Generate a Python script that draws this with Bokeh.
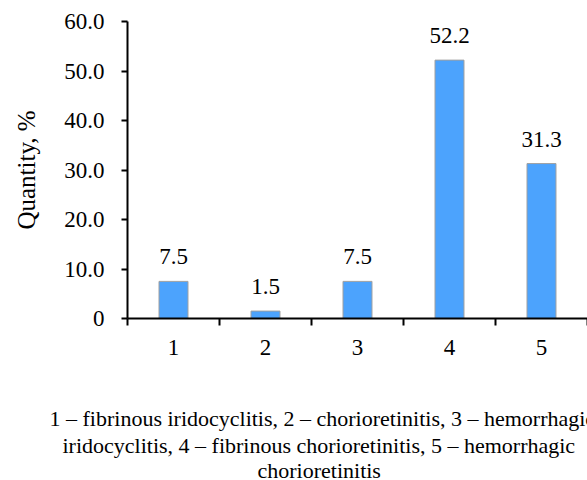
from bokeh.plotting import figure
from bokeh.models import ColumnDataSource, FixedTicker, Range1d, LabelSet, Title
from bokeh.embed import file_html
from bokeh.resources import INLINE

categories = ["1", "2", "3", "4", "5"]
values = [7.5, 1.5, 7.5, 52.2, 31.3]
value_labels = ["7.5", "1.5", "7.5", "52.2", "31.3"]
y_ticks = [0, 10, 20, 30, 40, 50, 60]
y_tick_labels = ["0", "10.0", "20.0", "30.0", "40.0", "50.0", "60.0"]
y_title = "Quantity, %"
caption_lines = [
    "1 – fibrinous iridocyclitis, 2 – chorioretinitis, 3 – hemorrhagic",
    "iridocyclitis, 4 – fibrinous chorioretinitis, 5 – hemorrhagic",
    "chorioretinitis",
]
caption_offsets = [-78, -65, 130]
caption_standoffs = [-2, 2, -6]

FONT = "Liberation Serif"
xpos = [i + 1 for i in range(len(categories))]
src = ColumnDataSource(dict(x=xpos, top=values, label=value_labels))

p = figure(width=587, height=480,
           x_range=Range1d(0.5, len(categories) + 0.5), y_range=Range1d(0, 60),
           output_backend="svg", toolbar_location=None,
           min_border_left=127, min_border_right=0, min_border_top=21, min_border_bottom=162)
p.outline_line_color = None
p.grid.visible = False
p.background_fill_color = "white"
p.border_fill_color = "white"

p.vbar(x="x", top="top", bottom=0, width=0.315, source=src,
       fill_color="#4CA3FD", line_color="#A0A0A0", line_width=1)

p.add_layout(LabelSet(x="x", y="top", text="label", source=src, y_offset=17,
                      text_align="center", text_baseline="alphabetic",
                      text_font=FONT, text_font_size="23px", text_color="#000000"))

# x axis
xa = p.xaxis[0]
xa.ticker = FixedTicker(ticks=xpos, minor_ticks=[i + 0.5 for i in range(len(categories) + 1)])
xa.major_label_overrides = {x: c for x, c in zip(xpos, categories)}
xa.major_tick_out = 0
xa.major_tick_in = 0
xa.minor_tick_out = 7
xa.minor_tick_in = 0
xa.minor_tick_line_color = "black"
xa.minor_tick_line_width = 2
xa.axis_line_color = "black"
xa.axis_line_width = 2
xa.major_label_standoff = 14
xa.major_label_text_font = FONT
xa.major_label_text_font_size = "23px"
xa.major_label_text_color = "black"

# y axis
ya = p.yaxis[0]
ya.ticker = FixedTicker(ticks=y_ticks, minor_ticks=[])
ya.major_label_overrides = {t: l for t, l in zip(y_ticks, y_tick_labels)}
ya.major_tick_out = 6
ya.major_tick_in = 0
ya.major_tick_line_width = 2
ya.major_tick_line_color = "black"
ya.minor_tick_line_color = None
ya.axis_line_color = "black"
ya.axis_line_width = 2
ya.major_label_standoff = 17
ya.major_label_text_font = FONT
ya.major_label_text_font_size = "23px"
ya.major_label_text_color = "black"
ya.axis_label = y_title
ya.axis_label_text_font = FONT
ya.axis_label_text_font_size = "25px"
ya.axis_label_text_font_style = "normal"
ya.axis_label_text_color = "black"
ya.axis_label_standoff = 21

# caption (spacer + three centred lines below the x axis)
p.add_layout(Title(text=" ", text_font=FONT, text_font_size="22px", standoff=20,
                   text_font_style="normal"), "below")
for line, off, so in zip(caption_lines, caption_offsets, caption_standoffs):
    p.add_layout(Title(text=line, align="left", offset=off, standoff=so,
                       vertical_align="bottom",
                       text_font=FONT, text_font_size="22px", text_font_style="normal",
                       text_color="black"), "below")

open("out.html", "w").write(file_html(p, INLINE))
